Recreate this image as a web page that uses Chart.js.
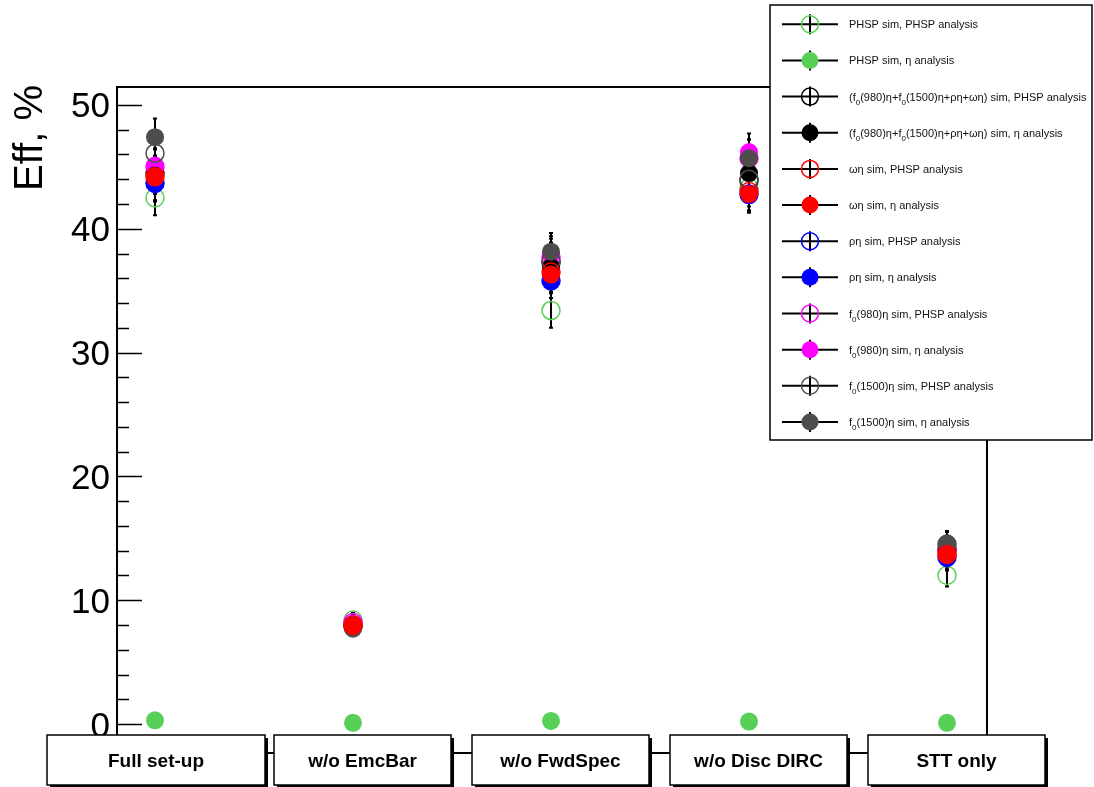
<!DOCTYPE html>
<html lang="en">
<head>
<meta charset="UTF-8">
<title>Efficiency per detector set-up</title>
<style>
  html, body { margin: 0; padding: 0; background: #fff; }
  canvas { display: block; }
</style>
</head>
<body>
<canvas id="cEff" width="1094" height="787"></canvas>
<script src="https://cdnjs.cloudflare.com/ajax/libs/Chart.js/4.4.1/chart.umd.js"></script>
<script>
// detector configurations (x categories) and y ticks
const setups = ['Full set-up', 'w/o EmcBar', 'w/o FwdSpec', 'w/o Disc DIRC', 'STT only'];
const yTicks = [0, 10, 20, 30, 40, 50];

// efficiencies in %, one value per set-up, with errors
const effPhspPhsp   = [42.5, 8.4, 33.4, 43.3, 12.0];
const errPhspPhsp   = [1.4, 0.6, 1.4, 1.5, 0.9];
const effPhspEta    = [0.3, 0.1, 0.25, 0.2, 0.1];
const errPhspEta    = [0.1, 0.05, 0.1, 0.1, 0.05];
const effSumPhsp    = [44.5, 8.0, 37.3, 43.9, 14.0];
const errSumPhsp    = [1.4, 0.6, 1.4, 1.5, 1.0];
const effSumEta     = [44.3, 7.8, 36.9, 44.5, 14.2];
const errSumEta     = [1.4, 0.6, 1.4, 1.5, 1.0];
const effOmegaPhsp  = [44.2, 8.0, 36.5, 43.0, 13.7];
const errOmegaPhsp  = [1.4, 0.6, 1.4, 1.5, 1.0];
const effOmegaEta   = [44.2, 7.9, 36.3, 42.8, 13.65];
const errOmegaEta   = [1.4, 0.6, 1.4, 1.4, 1.0];
const effRhoPhsp    = [43.7, 8.0, 35.8, 42.8, 13.5];
const errRhoPhsp    = [1.4, 0.6, 1.4, 1.4, 1.0];
const effRhoEta     = [43.6, 7.8, 35.8, 42.7, 13.4];
const errRhoEta     = [1.4, 0.6, 1.4, 1.4, 1.0];
const effF980Phsp   = [45.0, 8.2, 37.7, 45.7, 14.2];
const errF980Phsp   = [1.4, 0.6, 1.5, 1.5, 1.0];
const effF980Eta    = [45.1, 8.1, 37.9, 46.2, 14.0];
const errF980Eta    = [1.4, 0.6, 1.5, 1.5, 1.0];
const effF1500Phsp  = [46.1, 7.9, 37.4, 44.0, 14.5];
const errF1500Phsp  = [1.4, 0.6, 1.5, 1.5, 1.0];
const effF1500Eta   = [47.4, 7.7, 38.15, 45.7, 14.6];
const errF1500Eta   = [1.5, 0.6, 1.5, 1.5, 1.0];

const GREEN = '#58d058', GRAY = '#4d4d4d';

// legend order; 'z' = stacking (0 is drawn on top)
const series = [
  {l:'PHSP sim, PHSP analysis', eff:effPhspPhsp, err:errPhspPhsp, c:GREEN, open:true, z:10},
  {l:'PHSP sim, η analysis', eff:effPhspEta, err:errPhspEta, c:GREEN, open:false, z:11},
  {l:'(f_0(980)η+f_0(1500)η+ρη+ωη) sim, PHSP analysis', eff:effSumPhsp, err:errSumPhsp, c:'#000', open:true, z:9},
  {l:'(f_0(980)η+f_0(1500)η+ρη+ωη) sim, η analysis', eff:effSumEta, err:errSumEta, c:'#000', open:false, z:4},
  {l:'ωη sim, PHSP analysis', eff:effOmegaPhsp, err:errOmegaPhsp, c:'#ff0000', open:true, z:1},
  {l:'ωη sim, η analysis', eff:effOmegaEta, err:errOmegaEta, c:'#ff0000', open:false, z:0},
  {l:'ρη sim, PHSP analysis', eff:effRhoPhsp, err:errRhoPhsp, c:'#0000ff', open:true, z:8},
  {l:'ρη sim, η analysis', eff:effRhoEta, err:errRhoEta, c:'#0000ff', open:false, z:7},
  {l:'f_0(980)η sim, PHSP analysis', eff:effF980Phsp, err:errF980Phsp, c:'#ff00ff', open:true, z:5},
  {l:'f_0(980)η sim, η analysis', eff:effF980Eta, err:errF980Eta, c:'#ff00ff', open:false, z:6},
  {l:'f_0(1500)η sim, PHSP analysis', eff:effF1500Phsp, err:errF1500Phsp, c:GRAY, open:true, z:3},
  {l:'f_0(1500)η sim, η analysis', eff:effF1500Eta, err:errF1500Eta, c:GRAY, open:false, z:2},
];

const FONT = '"Liberation Sans", Arial, Helvetica, sans-serif';

// text with _0 subscripts
function subText(ctx, txt, x, y, size) {
  const parts = txt.split('_0');
  parts.forEach((p, i) => {
    ctx.font = size + 'px ' + FONT;
    ctx.fillText(p, x, y);
    x += ctx.measureText(p).width;
    if (i < parts.length - 1) {
      ctx.font = Math.round(size * 0.72) + 'px ' + FONT;
      ctx.fillText('0', x, y + 4);
      x += ctx.measureText('0').width;
    }
  });
}

const rootStyle = {
  id: 'rootStyle',
  beforeDatasetsDraw(chart) {
    const {ctx, scales:{x, y}} = chart;
    ctx.save();
    ctx.strokeStyle = '#000';
    ctx.lineWidth = 2;
    series.forEach(s => {
      s.eff.forEach((v, i) => {
        const px = x.getPixelForValue(i + 1);
        const t = y.getPixelForValue(v + s.err[i]);
        const b = y.getPixelForValue(v - s.err[i]);
        ctx.beginPath();
        ctx.moveTo(px, t); ctx.lineTo(px, b);
        ctx.moveTo(px - 2, t); ctx.lineTo(px + 2, t);
        ctx.moveTo(px - 2, b); ctx.lineTo(px + 2, b);
        ctx.stroke();
      });
    });
    ctx.restore();
  },
  afterDraw(chart) {
    const {ctx, chartArea:a, scales:{x, y}} = chart;
    ctx.save();
    // frame
    ctx.strokeStyle = '#000';
    ctx.lineWidth = 2;
    ctx.strokeRect(a.left, a.top, a.right - a.left, a.bottom - a.top);
    // y ticks, pointing inward
    ctx.beginPath();
    for (let v = -2; v <= 50; v += 2) {
      const py = Math.round(y.getPixelForValue(v)) + 0.5;
      const len = v % 10 === 0 ? 25 : 12;
      ctx.moveTo(a.left, py); ctx.lineTo(a.left + len, py);
    }
    ctx.lineWidth = 1.5;
    ctx.stroke();
    ctx.fillStyle = '#000';
    ctx.font = '35px ' + FONT;
    ctx.textAlign = 'right';
    ctx.textBaseline = 'alphabetic';
    yTicks.forEach(v => ctx.fillText(String(v), a.left - 7, y.getPixelForValue(v) + 12.5));
    // axis title
    ctx.save();
    ctx.translate(42, 85);
    ctx.rotate(-Math.PI / 2);
    ctx.font = '40px ' + FONT;
    ctx.textAlign = 'right';
    ctx.fillText('Eff, %', 0, 0);
    ctx.restore();
    // category boxes
    setups.forEach((name, i) => {
      const px = x.getPixelForValue(i + 1);
      const left = i === 0 ? px - 108 : px - 79;
      const w = i === 0 ? 218 : 177;
      const top = 735, h = 50;
      ctx.fillStyle = '#000';
      ctx.fillRect(left + 3, top + 3, w, h);
      ctx.fillStyle = '#fff';
      ctx.fillRect(left, top, w, h);
      ctx.lineWidth = 1.5;
      ctx.strokeRect(left, top, w, h);
      ctx.fillStyle = '#000';
      ctx.font = 'bold 19px ' + FONT;
      ctx.textAlign = 'center';
      ctx.fillText(name, left + w / 2, top + 32);
    });
    // legend
    ctx.fillStyle = '#fff';
    ctx.fillRect(770, 5, 322, 435);
    ctx.lineWidth = 1.5;
    ctx.strokeStyle = '#000';
    ctx.strokeRect(770, 5, 322, 435);
    ctx.textAlign = 'left';
    series.forEach((s, i) => {
      const ly = 24.3 + 36.15 * i;
      ctx.strokeStyle = '#000';
      ctx.lineWidth = 2;
      ctx.beginPath();
      ctx.moveTo(782, ly); ctx.lineTo(838, ly);
      ctx.moveTo(810, ly - 10); ctx.lineTo(810, ly + 10);
      ctx.stroke();
      ctx.beginPath();
      ctx.arc(810, ly, 8.5, 0, Math.PI * 2);
      if (s.open) {
        ctx.strokeStyle = s.c; ctx.lineWidth = 1.5; ctx.stroke();
      } else {
        ctx.fillStyle = s.c; ctx.fill();
      }
      ctx.fillStyle = '#111';
      subText(ctx, s.l, 849, ly + 4, 11);
    });
    ctx.restore();
  }
};

new Chart(document.getElementById('cEff').getContext('2d'), {
  type: 'scatter',
  data: {
    datasets: series.map(s => ({
      label: s.l,
      data: s.eff.map((v, i) => ({x: i + 1, y: v})),
      order: s.z,
      pointStyle: 'circle',
      pointRadius: 9,
      pointHoverRadius: 9,
      borderWidth: s.open ? 1.5 : 0,
      borderColor: s.c,
      backgroundColor: s.open ? 'rgba(0,0,0,0)' : s.c,
      pointBackgroundColor: s.open ? 'rgba(0,0,0,0)' : s.c,
    }))
  },
  options: {
    responsive: false,
    animation: false,
    layout: {padding: {left: 117, top: 87, right: 107, bottom: 34}},
    plugins: {legend: {display: false}, tooltip: {enabled: false}},
    scales: {
      x: {type: 'linear', display: false, min: 0.808, max: 5.202},
      y: {type: 'linear', display: false, min: -2.34, max: 51.45}
    }
  },
  plugins: [rootStyle]
});
</script>
</body>
</html>
